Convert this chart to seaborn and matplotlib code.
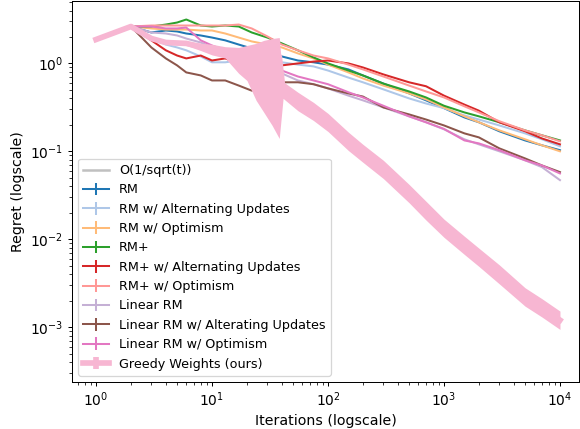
import numpy as np
import matplotlib
matplotlib.use("Agg")
import matplotlib.pyplot as plt
import seaborn as sns

# ---- data ----
T = [1, 2, 3, 4, 5, 6, 8, 10, 13, 17, 22, 30, 40, 55, 75, 100, 150, 200, 300,
     500, 700, 1000, 1500, 2000, 3000, 5000, 7000, 10000]

rm = [1.87, 2.63, 2.25, 2.37, 2.31, 2.19, 2.08, 1.97, 1.83, 1.64, 1.48, 1.37, 1.2, 1.08,
      1.03, 0.97, 0.855, 0.73, 0.59, 0.456, 0.38, 0.31, 0.243, 0.214, 0.169, 0.133, 0.117, 0.103]
rm_alt = [1.87, 2.63, 1.92, 1.64, 1.52, 1.41, 1.2, 1.03, 1.03, 1.08, 1.08, 1.08, 1.03, 0.97,
          0.925, 0.83, 0.69, 0.61, 0.507, 0.40, 0.35, 0.31, 0.256, 0.23, 0.197, 0.16, 0.137, 0.114]
rm_opt = [1.87, 2.63, 2.5, 2.43, 2.43, 2.43, 2.37, 2.37, 2.19, 1.97, 1.78, 1.64, 1.52, 1.30,
          1.14, 0.97, 0.79, 0.675, 0.56, 0.456, 0.39, 0.316, 0.25, 0.214, 0.173, 0.137, 0.117, 0.1]
rmp = [1.87, 2.63, 2.63, 2.77, 2.92, 3.16, 2.70, 2.63, 2.70, 2.63, 2.25, 1.97, 1.69, 1.41,
       1.17, 1.0, 0.83, 0.73, 0.59, 0.48, 0.41, 0.33, 0.277, 0.25, 0.214, 0.173, 0.152, 0.133]
rmp_alt = [1.87, 2.63, 1.83, 1.41, 1.23, 1.14, 1.23, 1.08, 1.14, 1.0, 0.90, 0.88, 0.95, 1.0,
           1.05, 1.08, 1.0, 0.90, 0.75, 0.61, 0.55, 0.43, 0.34, 0.29, 0.214, 0.169, 0.14, 0.12]
rmp_opt = [1.87, 2.63, 2.70, 2.70, 2.70, 2.70, 2.70, 2.70, 2.70, 2.77, 2.5, 2.03, 1.64, 1.41,
           1.23, 1.14, 0.97, 0.855, 0.71, 0.56, 0.48, 0.41, 0.325, 0.277, 0.22, 0.173, 0.152, 0.13]
lin = [1.87, 2.63, 2.25, 2.19, 2.08, 1.92, 1.73, 1.52, 1.41, 1.30, 1.14, 0.925, 0.77, 0.64,
       0.58, 0.52, 0.43, 0.38, 0.316, 0.25, 0.214, 0.178, 0.137, 0.12, 0.1, 0.079, 0.066, 0.047]
lin_alt = [1.87, 2.63, 1.52, 1.14, 0.95, 0.79, 0.73, 0.64, 0.64, 0.56, 0.49, 0.52, 0.61, 0.61,
           0.58, 0.52, 0.456, 0.42, 0.316, 0.263, 0.23, 0.197, 0.16, 0.144, 0.108, 0.083, 0.069, 0.058]
lin_opt = [1.87, 2.63, 2.63, 2.5, 2.5, 2.56, 1.83, 1.6, 1.41, 1.23, 1.14, 0.95, 0.83, 0.71,
           0.64, 0.58, 0.47, 0.41, 0.33, 0.25, 0.214, 0.18, 0.133, 0.123, 0.103, 0.079, 0.069, 0.056]

TG = [1, 2, 3, 4, 6, 8, 10, 13, 17, 20, 24, 28, 33, 38, 41, 55, 75, 100, 150, 200, 300,
      500, 700, 1000, 1500, 2000, 3000, 5000, 7000, 10000]
greedy = [1.87, 2.63, 1.92, 1.73, 1.69, 1.55, 1.45, 1.35, 1.3, 1.28, 1.25, 1.22, 1.2, 1.2,
          0.49, 0.37, 0.285, 0.214, 0.13, 0.095, 0.062, 0.033, 0.021, 0.0133, 0.0085, 0.0062,
          0.004, 0.0022, 0.00165, 0.0012]
greedy_lo = [1.87, 2.63, 1.85, 1.65, 1.6, 1.4, 1.25, 1.15, 0.77, 0.64, 0.38, 0.277, 0.197, 0.14,
             0.40, 0.29, 0.224, 0.168, 0.102, 0.075, 0.049, 0.026, 0.0165, 0.0105, 0.0067,
             0.0049, 0.0031, 0.00173, 0.0013, 0.00094]
greedy_hi = [1.87, 2.63, 2.0, 1.8, 1.78, 1.7, 1.65, 1.55, 1.52, 1.6, 1.69, 1.83, 1.92, 1.97,
             0.62, 0.47, 0.36, 0.27, 0.165, 0.12, 0.079, 0.042, 0.027, 0.0169, 0.0108, 0.0079,
             0.0051, 0.0028, 0.0021, 0.00152]

labels = ["RM", "RM w/ Alternating Updates", "RM w/ Optimism", "RM+",
          "RM+ w/ Alternating Updates", "RM+ w/ Optimism", "Linear RM",
          "Linear RM w/ Alterating Updates", "Linear RM w/ Optimism"]
series = [rm, rm_alt, rm_opt, rmp, rmp_alt, rmp_opt, lin, lin_alt, lin_opt]
greedy_label = "Greedy Weights (ours)"
ref_label = "O(1/sqrt(t))"

# ---- style ----
tab20 = sns.color_palette("tab20", 20)
colors = [tab20[i] for i in (0, 1, 3, 4, 6, 7, 9, 10, 12)]
greedy_color = tab20[13]

DPI = 580 / 6.4
fig = plt.figure(figsize=(6.4, 429 / DPI), dpi=DPI)
ax = fig.add_axes([72 / 580, 47 / 429, 507 / 580, 381.5 / 429])
ax.set_xscale("log")
ax.set_yscale("log")

for vals, c in zip(series, colors):
    sns.lineplot(x=T, y=vals, color=c, linewidth=1.6, ax=ax, legend=False)

ax.fill_between(TG, greedy_lo, greedy_hi, color=greedy_color, linewidth=0, zorder=5)
sns.lineplot(x=TG, y=greedy, color=greedy_color, linewidth=4.5, ax=ax, legend=False, zorder=6)

# legend proxies (errorbar style, as in the reference)
ax.plot([], [], color="silver", linewidth=2, label=ref_label)
for lab, c in zip(labels, colors):
    ax.errorbar([np.nan], [np.nan], yerr=[0.0], color=c, linewidth=1.6, elinewidth=1.6, label=lab)
ax.errorbar([np.nan], [np.nan], yerr=[0.0], color=greedy_color, linewidth=4.5, elinewidth=4.5,
            label=greedy_label)

ax.set_xlim(10 ** -0.207, 10 ** 4.164)
ax.set_ylim(10 ** -3.625, 10 ** 0.716)
ax.set_xlabel("Iterations (logscale)", fontsize=11.2)
ax.set_ylabel("Regret (logscale)", fontsize=11.2)
ax.tick_params(axis="both", which="major", labelsize=11)
ax.legend(loc="lower left", fontsize=10.1)

fig.savefig("out.png", dpi=DPI)
